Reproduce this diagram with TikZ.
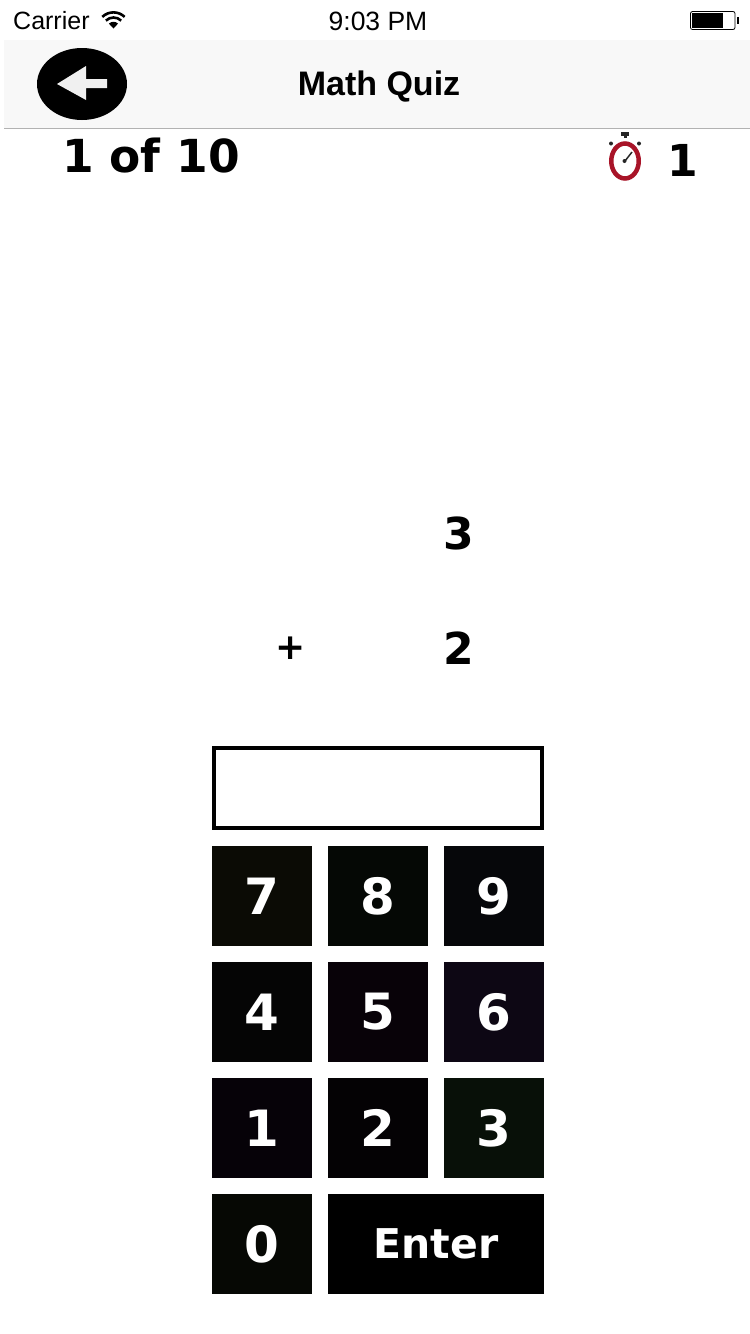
\documentclass[tikz,border=0pt]{standalone}
\usepackage{fontspec}
\usetikzlibrary{shapes.geometric}
\setmainfont{Liberation Sans}
\newfontfamily\handfont{DejaVu Sans}
\definecolor{navgrey}{HTML}{F8F8F8}
\definecolor{navline}{HTML}{B2B2B2}
\definecolor{watchred}{HTML}{A81428}
\definecolor{keyseven}{HTML}{0B0B05}
\definecolor{keyeight}{HTML}{050805}
\definecolor{keynine}{HTML}{06070A}
\definecolor{keyfour}{HTML}{050505}
\definecolor{keyfive}{HTML}{080208}
\definecolor{keysix}{HTML}{0D0714}
\definecolor{keyone}{HTML}{060208}
\definecolor{keytwo}{HTML}{040204}
\definecolor{keythree}{HTML}{081008}
\definecolor{keyzero}{HTML}{060804}
\begin{document}
\begin{tikzpicture}[
        x=1pt, y=-1pt,
        key/.style={minimum size=100pt, inner sep=0pt, text=white, font=\handfont\bfseries\fontsize{50}{50}\selectfont},
        hand/.style={inner sep=0pt, font=\handfont\bfseries\fontsize{44}{44}\selectfont},
        status/.style={inner sep=0pt, font=\fontsize{25}{25}\selectfont}
      ]
      \useasboundingbox (0,0) rectangle (750,1334);
      % status bar
      \node[status, anchor=west] (carrier) at (13,21) {Carrier};
      \node[status, font=\fontsize{26.5}{26.5}\selectfont] (clock) at (378,21) {9:03 PM};
      \coordinate (wifi) at (113.5,28.5);
      \fill (wifi) -- +(-4.6,-4.9) arc[start angle=227, end angle=313, radius=6.7] -- cycle;
      \draw[line width=2.6pt] ([shift={(-7.6,-7.9)}]wifi) arc[start angle=226, end angle=314, radius=11];
      \draw[line width=2.6pt] ([shift={(-11.2,-11.6)}]wifi) arc[start angle=226, end angle=314, radius=16.1];
      \draw[line width=0.8pt, rounded corners=2pt] (690.5,11.5) rectangle (735,29.5);
      \fill (692,13) rectangle (723,28);
      \fill (736.5,17) rectangle (739,24);
      % navigation bar
      \fill[navgrey] (4,40) rectangle (750,128);
      \draw[navline, line width=1pt] (4,128.5) -- (750,128.5);
      \node[status, font=\bfseries\fontsize{34}{34}\selectfont] (title) at (379,87) {Math Quiz};
      \node[ellipse, fill=black, inner sep=0pt, minimum width=90pt, minimum height=72pt] (back) at (82,84) {};
      \fill[white!94!black] (57,84) -- (86,66) -- (86,79) -- (107,79) -- (107,88) -- (86,88) -- (86,100) -- cycle;
      % progress and timer
      \node[hand, font=\handfont\bfseries\fontsize{45.5}{45.5}\selectfont] (progress) at (151,156) {1 of 10};
      \node[draw=watchred, line width=4.5pt, ellipse, inner sep=0pt, minimum width=27.5pt, minimum height=35pt] (watch) at (625,161) {};
      \fill[black!85] (621,132) rectangle (629,135.5);
      \fill[black!85] (623.5,135.5) rectangle (626.5,138);
      \fill[black!85] (611,143.5) circle (2pt);
      \fill[black!85] (639,143.5) circle (2pt);
      \fill[black!85] (624.5,161) circle (2pt);
      \draw[black!85, line width=1.5pt] (watch.center) -- (632,152);
      \node[hand] (elapsed) at (683,160) {1};
      % question
      \node[hand] (top) at (459,533) {3};
      \node[hand, font=\handfont\bfseries\fontsize{36}{36}\selectfont] (plus) at (291,648) {+};
      \node[hand] (bottom) at (459,648) {2};
      % answer box
      \node[draw=black, line width=4pt, inner sep=0pt, minimum width=328pt, minimum height=80pt] (answer) at (378,788) {};
      % keypad
      \node[key, fill=keyseven] (k7) at (262,896) {7};
      \node[key, fill=keyeight] (k8) at (378,896) {8};
      \node[key, fill=keynine] (k9) at (494,896) {9};
      \node[key, fill=keyfour] (k4) at (262,1012) {4};
      \node[key, fill=keyfive] (k5) at (378,1012) {5};
      \node[key, fill=keysix] (k6) at (494,1012) {6};
      \node[key, fill=keyone] (k1) at (262,1128) {1};
      \node[key, fill=keytwo] (k2) at (378,1128) {2};
      \node[key, fill=keythree] (k3) at (494,1128) {3};
      \node[key, fill=keyzero] (k0) at (262,1244) {0};
      \node[key, fill=black, minimum width=216pt, font=\handfont\bfseries\fontsize{41}{41}\selectfont] (enter) at (436,1244) {Enter};
\end{tikzpicture}
\end{document}
